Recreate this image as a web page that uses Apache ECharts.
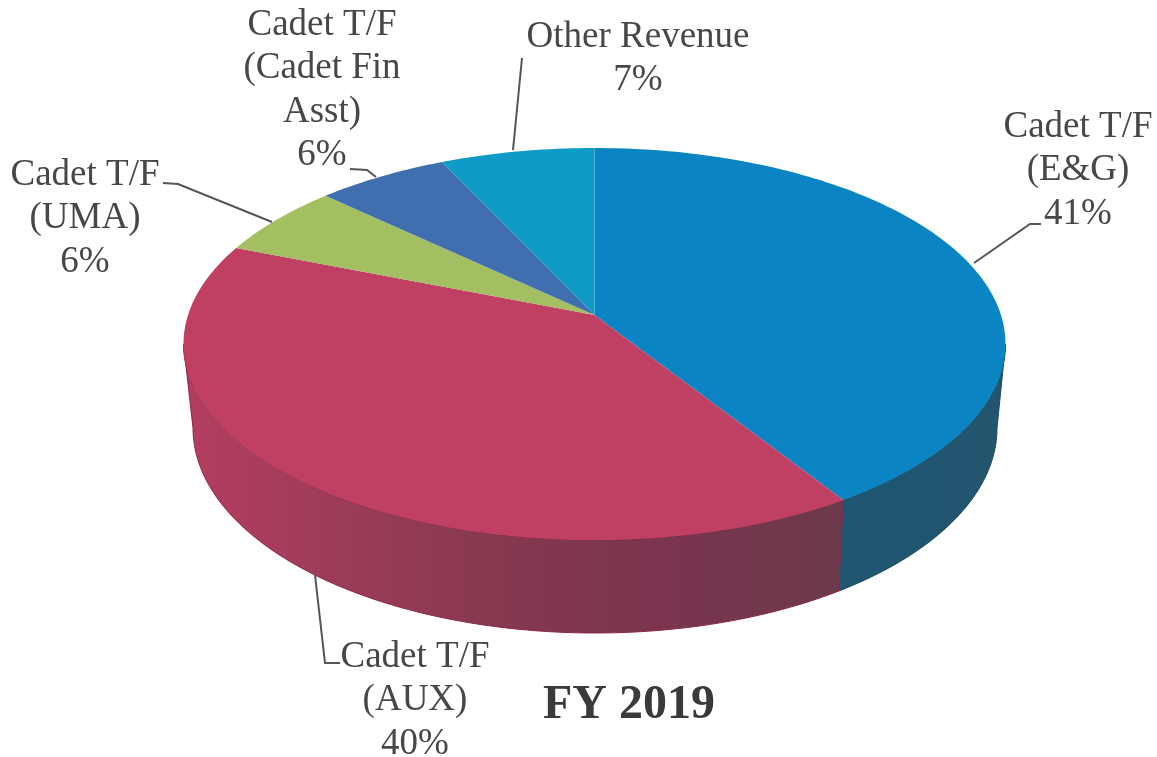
<!DOCTYPE html>
<html>
<head>
<meta charset="utf-8">
<title>FY 2019</title>
<script src="https://cdn.jsdelivr.net/npm/echarts@6/dist/echarts.min.js"></script>
<style>
    html, body { margin: 0; padding: 0; background: #fff; }
    #chart { width: 1157px; height: 757px; }
</style>
</head>
<body>
<div id="chart"></div>
<script>
// clockwise from 12 o'clock
const categories = ['Cadet T/F\n(E&G)', 'Cadet T/F\n(AUX)', 'Cadet T/F\n(UMA)', 'Cadet T/F\n(Cadet Fin\nAsst)', 'Other Revenue'];
const shares = [41, 40, 6, 6, 7];
const chartTitle = 'FY 2019';

const topColors = ['#0a84c3', '#bf4063', '#a4bf62', '#3f6fae', '#0f9bc6'];
const sideColors = [
    ['#1f5672', '#23556e'],
    ['#b53e60', '#9a3c57', '#85384f', '#79344f', '#6b3a4b'],
    ['#6f8040', '#6f8040'],
    ['#2a4a75', '#2a4a75'],
    ['#0a6885', '#0a6885']
];
const sideEdges = ['#1b4a62', '#8c2848', '#5f6e36', '#243f64', '#085871'];

// label centre x, first line y, and leader line for each slice
const labelLayout = [
    { x: 1078, y: 127, line: [[1041, 224], [1030, 224], [974, 263]] },
    { x: 415, y: 657, line: [[340, 663], [325, 663], [315, 575]] },
    { x: 85, y: 175, line: [[163, 183], [178, 184], [272, 222]] },
    { x: 322, y: 25, line: [[350, 169], [367, 170], [376, 177]] },
    { x: 638, y: 37, line: [[522, 58], [513, 150]] }
];

// the disc is tilted so the apex sits above the ellipse centre
const topRim = { cx: 594.5, cy: 344, rx: 411, ry: 196 };
const bottomRim = { cx: 595, cy: 428, rx: 402, ry: 205 };
const tilt = -0.148;
const total = shares.reduce((a, b) => a + b, 0);

// the part of the rim that faces the viewer, between the two widest points
const frontStart = Math.acos(tilt) / (2 * Math.PI) * total;
const frontEnd = total - frontStart;

function rimPoint(rim, share) {
    const t = share / total * 2 * Math.PI;
    const u = Math.sin(t), v = -Math.cos(t);
    const d = 1 + tilt * v;
    return [
        rim.cx + rim.rx * u * Math.sqrt(1 - tilt * tilt) / d,
        rim.cy + rim.ry * (v + tilt) / d
    ];
}

function arc(rim, from, to) {
    const pts = [];
    const steps = Math.max(8, Math.ceil((to - from) * 3));
    for (let i = 0; i <= steps; i++) {
        pts.push(rimPoint(rim, from + (to - from) * i / steps));
    }
    return pts;
}

function sliceRange(index) {
    const from = shares.slice(0, index).reduce((a, b) => a + b, 0);
    return [from, from + shares[index]];
}

function renderSide(params) {
    const range = sliceRange(params.dataIndex);
    const from = Math.max(range[0], frontStart);
    const to = Math.min(range[1], frontEnd);
    if (to <= from) {
        return null;
    }
    const stops = sideColors[params.dataIndex];
    const points = arc(topRim, from, to).concat(arc(bottomRim, from, to).reverse());
    return {
        type: 'polygon',
        shape: { points: points },
        style: {
            fill: new echarts.graphic.LinearGradient(0, 0, 1, 0,
                stops.map((c, i) => ({ offset: i / (stops.length - 1), color: c }))),
            stroke: sideEdges[params.dataIndex],
            lineWidth: 1
        }
    };
}

function renderTop(params) {
    const [from, to] = sliceRange(params.dataIndex);
    const apex = [topRim.cx, topRim.cy - 29];
    return {
        type: 'polygon',
        shape: { points: [apex].concat(arc(topRim, from, to)) },
        style: { fill: topColors[params.dataIndex] }
    };
}

function renderLabel(params) {
    const i = params.dataIndex;
    const layout = labelLayout[i];
    const lines = (categories[i] + '\n' + shares[i] + '%').split('\n');
    const children = lines.map((text, n) => ({
        type: 'text',
        style: {
            text: text,
            x: layout.x,
            y: layout.y + n * 43.5,
            align: 'center',
            verticalAlign: 'middle',
            font: '37px "Liberation Serif"',
            fill: '#474747'
        }
    }));
    children.push({
        type: 'polyline',
        shape: { points: layout.line },
        style: { stroke: '#555', lineWidth: 2, fill: 'none' }
    });
    return { type: 'group', children: children };
}

const chart = echarts.init(document.getElementById('chart'));
chart.setOption({
    animation: false,
    backgroundColor: '#fff',
    title: {
        text: chartTitle,
        left: 538,
        top: 677,
        textStyle: { fontFamily: 'Liberation Serif', fontSize: 48, fontWeight: 'bold', color: '#3a3a3a' }
    },
    series: [
        { type: 'custom', name: 'side', coordinateSystem: 'none', renderItem: renderSide, data: shares, z: 1, silent: true },
        { type: 'custom', name: 'top', coordinateSystem: 'none', renderItem: renderTop, data: shares, z: 2, silent: true },
        { type: 'custom', name: 'labels', coordinateSystem: 'none', renderItem: renderLabel, data: shares, z: 3, silent: true }
    ]
});
</script>
</body>
</html>
